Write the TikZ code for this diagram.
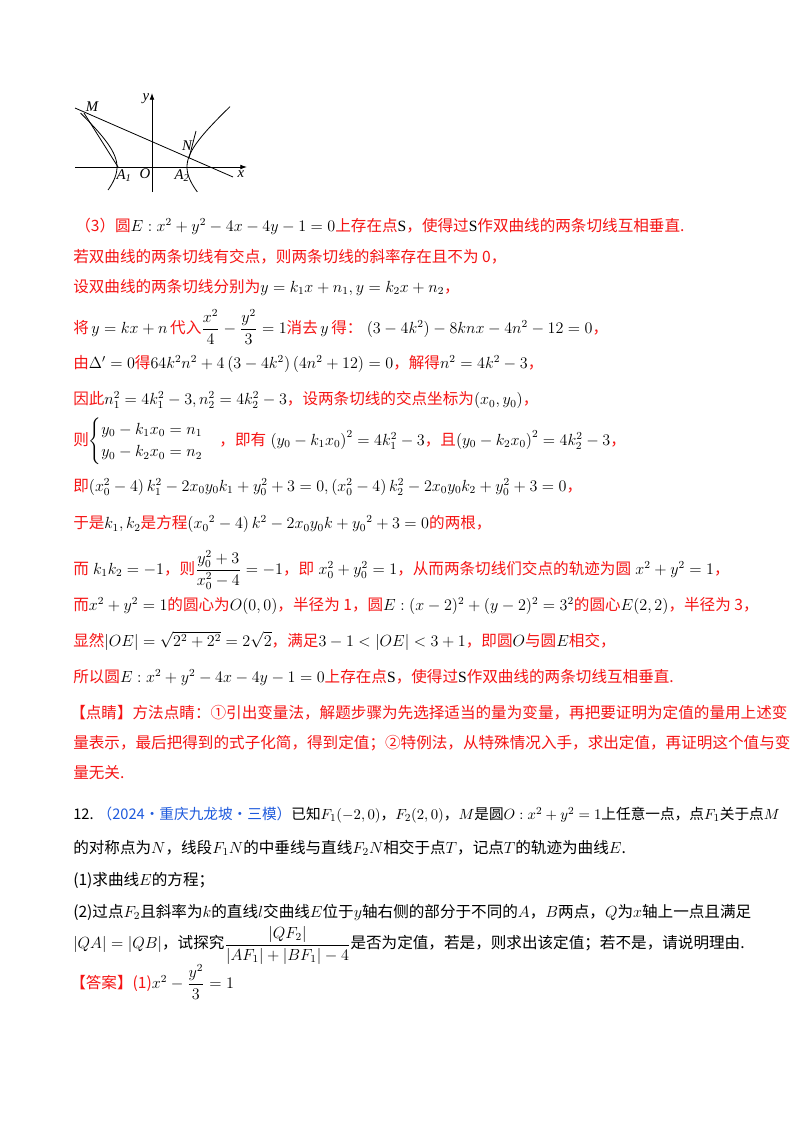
\documentclass[tikz,border=0pt]{standalone}
\usepackage{amsmath,amssymb}
\usepackage{fontspec}
\usetikzlibrary{arrows.meta}
\setmainfont{Noto Sans CJK SC}
\newfontfamily\tnr{Liberation Serif}
\definecolor{rd}{RGB}{245,20,20}
\definecolor{bl}{RGB}{30,90,220}
\newcommand{\R}[1]{\textcolor{rd}{#1}}
\newcommand{\B}[1]{\textcolor{bl}{#1}}
\begin{document}
\begin{tikzpicture}[x=0.744pt,y=-0.744pt,
  t/.style={anchor=west,inner sep=0pt,font=\fontsize{11.6}{14}\selectfont},
  ts/.style={anchor=west,inner sep=0pt,font=\fontsize{10.9}{14}\selectfont},
  lab/.style={inner sep=0pt,font=\fontsize{11}{12}\selectfont\itshape\tnr},
  ax/.style={line width=0.6pt,-{Latex[length=5pt,width=3.5pt]}},
  cv/.style={line width=0.6pt}]
\useasboundingbox (0,0) rectangle (800,1132);
% figure
\draw[ax] (75,167) -- (247,167);
\draw[ax] (152,192) -- (152,93);
\draw[cv] plot[domain=-0.7:1.34,samples=40,smooth] ({152-35*cosh(\x)},{167-30.3*sinh(\x)});
\draw[cv] plot[domain=-0.75:1.44,samples=40,smooth] ({152+35*cosh(\x)},{167-30.3*sinh(\x)});
\coordinate (M) at (84,113);
\coordinate (A1) at (118,167);
\coordinate (L0) at (75,108);
\coordinate (L1) at (233,177);
\draw[cv] (L0) -- (L1);
\draw[cv] (M) -- (A1);
\coordinate (n1) at (196,131);
\coordinate (n2) at (189,158);
\draw[cv] (n1) -- (n2);
\node[lab] (lM) at (92,107) {M};
\node[lab] (ly) at (146,99) {y};
\node[lab] (lN) at (187,146) {N};
\node[lab] (lA1) at (124,176) {A\textsubscript{1}};
\node[lab] (lO) at (145,174) {O};
\node[lab] (lA2) at (182,176) {A\textsubscript{2}};
\node[lab] (lx) at (241,174) {x};
% text
\node[t] (l1) at (75,226) {\R{（3）圆}$E:x^2+y^2-4x-4y-1=0$\R{上存在点}{\tnr S}\R{，使得过}{\tnr S}\R{作双曲线的两条切线互相垂直.}};
\node[t] (l2) at (73,257) {\R{若双曲线的两条切线有交点，则两条切线的斜率存在且不为 0，}};
\node[t] (l3) at (73,287) {\R{设双曲线的两条切线分别为}$y=k_1x+n_1,y=k_2x+n_2$\R{，}};
\node[t] (l4) at (73,327) {\R{将}\,$y=kx+n$\,\R{代入}$\dfrac{x^2}{4}-\dfrac{y^2}{3}=1$\R{消去}\,$y$\,\R{得：}\;$(3-4k^2)-8knx-4n^2-12=0$\R{，}};
\node[t] (l5) at (73,364) {\R{由}$\Delta'=0$\R{得}$64k^2n^2+4\left(3-4k^2\right)\left(4n^2+12\right)=0$\R{，解得}$n^2=4k^2-3$\R{，}};
\node[t] (l6) at (73,400) {\R{因此}$n_1^2=4k_1^2-3,n_2^2=4k_2^2-3$\R{，设两条切线的交点坐标为}$\left(x_0,y_0\right)$\R{，}};
\node[t] (l7) at (73,441) {\R{则}$\begin{cases}y_0-k_1x_0=n_1\\ y_0-k_2x_0=n_2\end{cases}$\R{，即有}\;$\left(y_0-k_1x_0\right)^2=4k_1^2-3$\R{，且}$\left(y_0-k_2x_0\right)^2=4k_2^2-3$\R{，}};
\node[t] (l8) at (73,487) {\R{即}$\left(x_0^2-4\right)k_1^2-2x_0y_0k_1+y_0^2+3=0,\left(x_0^2-4\right)k_2^2-2x_0y_0k_2+y_0^2+3=0$\R{，}};
\node[t] (l9) at (73,524) {\R{于是}$k_1,k_2$\R{是方程}$\left({x_0}^2-4\right)k^2-2x_0y_0k+{y_0}^2+3=0$\R{的两根，}};
\node[t] (l10) at (73,570) {\R{而}\;$k_1k_2=-1$\R{，则}$\dfrac{y_0^2+3}{x_0^2-4}=-1$\R{，即}\;$x_0^2+y_0^2=1$\R{，从而两条切线们交点的轨迹为圆}\;$x^2+y^2=1$\R{，}};
\node[t] (l11) at (73,606) {\R{而}$x^2+y^2=1$\R{的圆心为}$O(0,0)$\R{，半径为 1，圆}$E:(x-2)^2+(y-2)^2=3^2$\R{的圆心}$E(2,2)$\R{，半径为 3，}};
\node[t] (l12) at (73,641) {\R{显然}$|OE|=\sqrt{2^2+2^2}=2\sqrt2$\R{，满足}$3-1<|OE|<3+1$\R{，即圆}$O$\R{与圆}$E$\R{相交，}};
\node[t] (l13) at (73,677) {\R{所以圆}$E:x^2+y^2-4x-4y-1=0$\R{上存在点}{\tnr S}\R{，使得过}{\tnr S}\R{作双曲线的两条切线互相垂直.}};
\node[t] (l14) at (70,713) {\R{【点睛】方法点睛：①引出变量法，解题步骤为先选择适当的量为变量，再把要证明为定值的量用上述变}};
\node[t] (l15) at (73,743) {\R{量表示，最后把得到的式子化简，得到定值；②特例法，从特殊情况入手，求出定值，再证明这个值与变}};
\node[t] (l16) at (73,773) {\R{量无关.}};
\node[ts] (l17) at (73,815) {12.\;\B{（2024·重庆九龙坡·三模）}已知$F_1(-2,0)$，$F_2(2,0)$，$M$是圆$O:x^2+y^2=1$上任意一点，点$F_1$关于点$M$};
\node[t] (l18) at (73,848) {的对称点为$N$，线段$F_1N$的中垂线与直线$F_2N$相交于点$T$，记点$T$的轨迹为曲线$E$.};
\node[t] (l19) at (73,880) {(1)求曲线$E$的方程；};
\node[t] (l20) at (73,912) {(2)过点$F_2$且斜率为$k$的直线$l$交曲线$E$位于$y$轴右侧的部分于不同的$A$，$B$两点，$Q$为$x$轴上一点且满足};
\node[t] (l21) at (73,945) {$|QA|=|QB|$，试探究$\dfrac{|QF_2|}{|AF_1|+|BF_1|-4}$是否为定值，若是，则求出该定值；若不是，请说明理由.};
\node[t] (l22) at (70,982) {\R{【答案】(1)}$x^2-\dfrac{y^2}{3}=1$};
\end{tikzpicture}
\end{document}
